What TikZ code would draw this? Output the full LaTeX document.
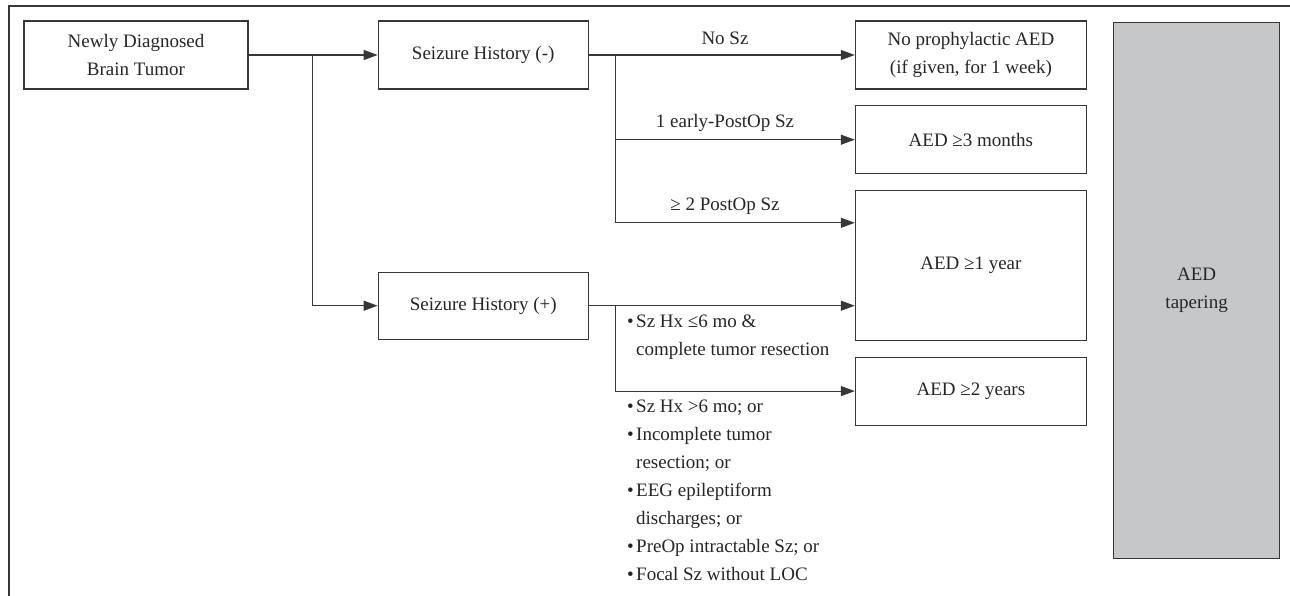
\documentclass[tikz,border=0pt]{standalone}
\usepackage{fontspec}
\setmainfont{Liberation Serif}
\usetikzlibrary{arrows.meta,positioning}
\definecolor{taperfill}{RGB}{198,199,201}
\definecolor{linegray}{RGB}{55,55,55}
\newcommand{\itm}{\makebox[9pt][l]{•}}
\newcommand{\indt}{\hspace*{9pt}}

\begin{document}
\begin{tikzpicture}[x=1pt, y=-1pt, >={Triangle[length=14pt,width=10pt]},
 node distance=15.5pt and 129pt,
 every node/.style={align=center, font=\fontsize{19}{28}\selectfont, text=black!85},
 box/.style={draw=linegray, line width=1.2pt, inner sep=0pt, minimum height=68pt},
 link/.style={draw=linegray, line width=1.2pt},
 lbl/.style={inner sep=0pt, anchor=base},
 crit/.style={inner sep=0pt, anchor=north west, align=left}]
\useasboundingbox (0,0) rectangle (1290,596);
% frame
\draw[link, line width=1.4pt] (1290,6) -| (9,596);

% boxes
\node[box, minimum width=224pt] (tumor) at (136,55) {Newly Diagnosed\\Brain Tumor};
\node[box, minimum width=210pt, right=of tumor] (histneg) {Seizure History (-)};
\node[box, minimum width=210pt, minimum height=67pt, below=182pt of histneg] (histpos) {Seizure History (+)};
\node[box, minimum width=231pt, right=266pt of histneg] (noaed) {No prophylactic AED\\(if given, for 1 week)};
\node[box, minimum width=231pt, below=of noaed] (aedthree) {AED ≥3 months};
\node[box, minimum width=231pt, minimum height=150pt, below=of aedthree] (aedyear) {AED ≥1 year};
\node[box, minimum width=231pt, below=of aedyear] (aedtwo) {AED ≥2 years};
\node[box, fill=taperfill, minimum width=166pt, minimum height=536pt, anchor=north west] (taper) at (1113,22) {AED\\tapering};

% branch points
\coordinate (split) at ([xshift=64pt]tumor.east);
\coordinate (negsplit) at ([xshift=27pt]histneg.east);
\coordinate (possplit) at ([xshift=27pt]histpos.east);
\coordinate (twoin) at ([yshift=-33pt]aedyear.north west);

% arrows
\draw[link,->] (tumor.east) -- (histneg.west);
\draw[link,->] (split) |- (histpos.west);
\draw[link,->] (histneg.east) -- (noaed.west);
\draw[link,->] (negsplit) |- (aedthree.west);
\draw[link,->] (negsplit) |- (twoin);
\draw[link,->] (histpos.east) -- (histpos.east -| aedyear.west);
\draw[link,->] (possplit) |- (aedtwo.west);

% labels
\node[lbl] (nosz) at (725,45) {No Sz};
\node[lbl] (onesz) at (725,128) {1 early-PostOp Sz};
\node[lbl] (twosz) at (725,211) {≥ 2 PostOp Sz};
\node[crit] (critlow) at (627,315) {\itm Sz Hx ≤6 mo \&\\\indt complete tumor resection};
\node[crit] (crithigh) at (627,400) {\itm Sz Hx >6 mo; or\\\itm Incomplete tumor\\\indt resection; or\\\itm EEG epileptiform\\\indt discharges; or\\\itm PreOp intractable Sz; or\\\itm Focal Sz without LOC};
\end{tikzpicture}
\end{document}
